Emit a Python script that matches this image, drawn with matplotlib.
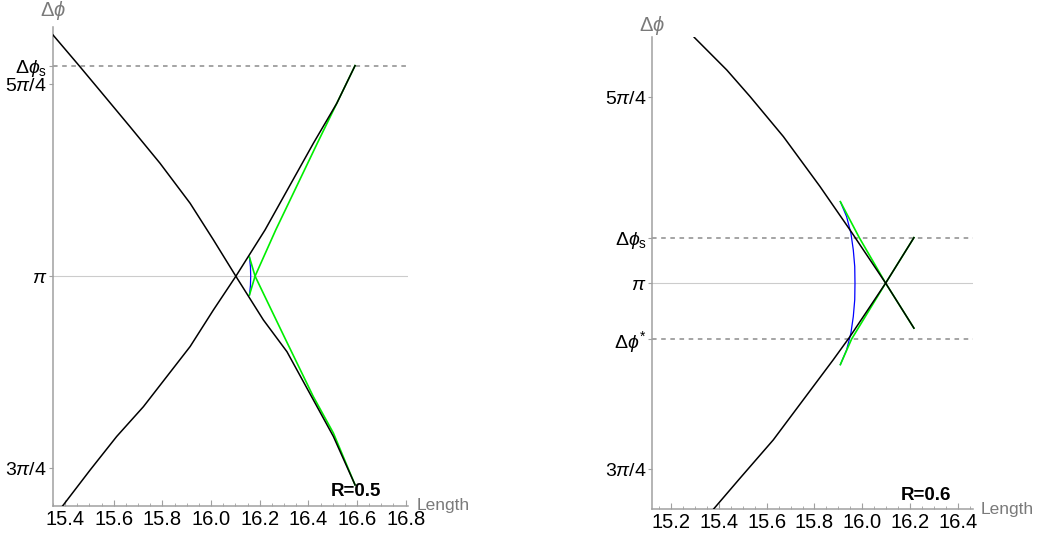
import matplotlib
matplotlib.use("Agg")
import matplotlib.pyplot as plt
import numpy as np
from matplotlib.ticker import MultipleLocator

plt.rcParams["font.family"] = ["Liberation Sans", "DejaVu Sans"]
plt.rcParams["mathtext.fontset"] = "custom"
plt.rcParams["mathtext.rm"] = "Liberation Sans"
plt.rcParams["mathtext.it"] = "Liberation Sans:italic"
plt.rcParams["mathtext.bf"] = "Liberation Sans:bold"

# R = 0.5 panel
r05_black_down_x = [15.349, 15.455, 15.544, 15.667, 15.790, 15.914, 16.010, 16.103, 16.215, 16.312, 16.503, 16.592]
r05_black_down_y = [4.130, 4.006, 3.900, 3.753, 3.604, 3.440, 3.290, 3.140, 2.963, 2.833, 2.486, 2.288]
r05_black_up_x = [15.386, 15.503, 15.612, 15.722, 15.818, 15.914, 16.010, 16.103, 16.222, 16.421, 16.517, 16.592]
r05_black_up_y = [2.197, 2.349, 2.486, 2.608, 2.731, 2.854, 3.004, 3.143, 3.331, 3.686, 3.849, 4.003]
r05_green_down_x = [16.158, 16.181, 16.300, 16.420, 16.503, 16.592]
r05_green_down_y = [3.219, 3.142, 2.896, 2.650, 2.500, 2.288]
r05_green_up_x = [16.158, 16.181, 16.266, 16.437, 16.517, 16.592]
r05_green_up_y = [3.065, 3.142, 3.331, 3.686, 3.849, 4.003]
r05_blue_x = [16.158, 16.162, 16.163, 16.162, 16.158]
r05_blue_y = [3.219, 3.180, 3.142, 3.104, 3.065]
r05_dphi_s = 4.003

# R = 0.6 panel
r06_black_down_x = [15.298, 15.434, 15.531, 15.670, 15.823, 15.948, 16.097, 16.215]
r06_black_down_y = [4.180, 4.042, 3.930, 3.761, 3.550, 3.367, 3.142, 2.952]
r06_black_up_x = [15.378, 15.489, 15.628, 15.878, 15.948, 16.097, 16.215]
r06_black_up_y = [2.187, 2.318, 2.480, 2.818, 2.916, 3.142, 3.334]
r06_green_down_x = [15.908, 15.987, 16.097, 16.215]
r06_green_down_y = [3.486, 3.334, 3.142, 2.952]
r06_green_up_x = [15.908, 15.955, 16.097, 16.215]
r06_green_up_y = [2.798, 2.906, 3.142, 3.334]
r06_blue_x = [15.908, 15.934, 15.952, 15.962, 15.968, 15.969, 15.968, 15.962, 15.952, 15.934, 15.908]
r06_blue_y = [3.486, 3.423, 3.353, 3.282, 3.212, 3.142, 3.072, 3.001, 2.931, 2.860, 2.798]
r06_dphi_s = 3.334
r06_dphi_star = 2.906

AXIS_GRAY = "#a0a0a0"
LABEL_GRAY = "#7a7a7a"


def style_axes(ax, xlim, ylim, yticks, yticklabels, xticks, top_label_y):
    ax.set_xlim(*xlim)
    ax.set_ylim(*ylim)
    for side in ("top", "right"):
        ax.spines[side].set_visible(False)
    for side in ("left", "bottom"):
        ax.spines[side].set_color(AXIS_GRAY)
        ax.spines[side].set_linewidth(1.1)
    ax.set_xticks(xticks)
    ax.set_xticklabels([f"{v:.1f}" for v in xticks])
    ax.xaxis.set_minor_locator(MultipleLocator(0.05))
    ax.tick_params(axis="x", which="major", direction="in", length=4, width=0.8,
                   color=AXIS_GRAY, labelsize=14.5, pad=3)
    ax.tick_params(axis="x", which="minor", direction="in", length=2.5, width=0.6,
                   color=AXIS_GRAY)
    ax.set_yticks(yticks)
    ax.set_yticklabels(yticklabels)
    ax.tick_params(axis="y", which="major", direction="out", length=3, width=0.8,
                   color=AXIS_GRAY, labelsize=14, pad=1)
    ax.axhline(np.pi, color="#cccccc", lw=0.8, zorder=1)
    ax.text(0.0, top_label_y, r"$\Delta\phi$", transform=ax.transAxes, ha="center", va="center",
            fontsize=14.5, color=LABEL_GRAY)
    ax.text(1.024, 0.0, "Length", transform=ax.transAxes, ha="left", va="center",
            fontsize=12.5, color=LABEL_GRAY)


fig = plt.figure(figsize=(10.39, 5.37), dpi=100)

ax1 = fig.add_axes([0.0507, 0.0583, 0.3423, 0.8914])
style_axes(ax1, (15.349, 16.811), (2.203, 4.161),
           [3 * np.pi / 4, np.pi, 5 * np.pi / 4, r05_dphi_s],
           [r"$3\pi/4$", r"$\pi$", r"$5\pi/4$", r"$\Delta\phi_{\rm s}$"],
           [15.4, 15.6, 15.8, 16.0, 16.2, 16.4, 16.6, 16.8], 1.035)
ax1.axhline(r05_dphi_s, color="#8c8c8c", lw=1.1, ls=(0, (3, 3)), zorder=1)
ax1.plot(r05_blue_x, r05_blue_y, color="#0000ff", lw=0.9, zorder=2)
ax1.plot(r05_green_down_x, r05_green_down_y, color="#00ee00", lw=1.2, zorder=3)
ax1.plot(r05_green_up_x, r05_green_up_y, color="#00ee00", lw=1.2, zorder=3)
ax1.plot(r05_black_down_x, r05_black_down_y, color="black", lw=1.1, zorder=4)
ax1.plot(r05_black_up_x, r05_black_up_y, color="black", lw=1.1, zorder=4)
ax1.text(0.853, 0.03, "R=0.5", transform=ax1.transAxes, ha="center", va="center",
         fontsize=13.5, fontweight="bold")

ax2 = fig.add_axes([0.6278, 0.0516, 0.3090, 0.8789])
style_axes(ax2, (15.123, 16.463), (2.187, 4.180),
           [3 * np.pi / 4, r06_dphi_star, np.pi, r06_dphi_s, 5 * np.pi / 4],
           [r"$3\pi/4$", r"$\Delta\phi^{*}$", r"$\pi$", r"$\Delta\phi_{\rm s}$", r"$5\pi/4$"],
           [15.2, 15.4, 15.6, 15.8, 16.0, 16.2, 16.4], 1.025)
ax2.axhline(r06_dphi_s, color="#8c8c8c", lw=1.1, ls=(0, (3, 3)), zorder=1)
ax2.axhline(r06_dphi_star, color="#8c8c8c", lw=1.1, ls=(0, (3, 3)), zorder=1)
ax2.plot(r06_blue_x, r06_blue_y, color="#0000ff", lw=0.9, zorder=2)
ax2.plot(r06_green_down_x, r06_green_down_y, color="#00ee00", lw=1.2, zorder=3)
ax2.plot(r06_green_up_x, r06_green_up_y, color="#00ee00", lw=1.2, zorder=3)
ax2.plot(r06_black_down_x, r06_black_down_y, color="black", lw=1.1, zorder=4)
ax2.plot(r06_black_up_x, r06_black_up_y, color="black", lw=1.1, zorder=4)
ax2.text(0.853, 0.03, "R=0.6", transform=ax2.transAxes, ha="center", va="center",
         fontsize=13.5, fontweight="bold")

fig.savefig("out.png", dpi=100)
